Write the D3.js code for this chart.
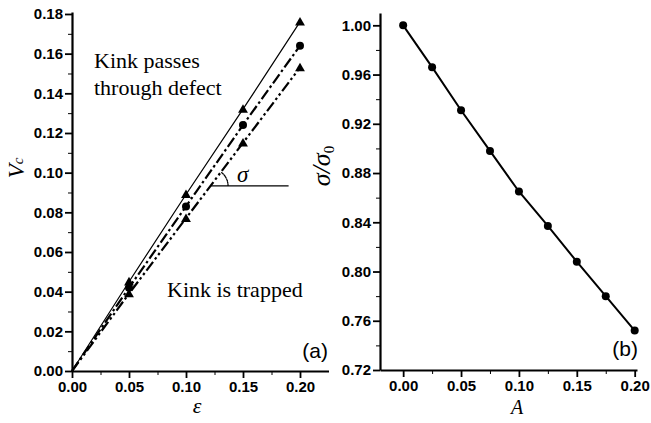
<!DOCTYPE html>
<html>
<head>
<meta charset="utf-8">
<script src="https://cdn.jsdelivr.net/npm/d3@7"></script>
<style>
  body { margin: 0; background: #fff; }
  svg { display: block; }
  .tick text { font-family: Arial, "Liberation Sans", sans-serif; font-weight: bold; font-size: 15px; fill: #000; }
</style>
</head>
<body>
<div id="chart"></div>
<script>
// panel (a): critical velocity vs epsilon
const eps = [0, 0.05, 0.10, 0.15, 0.20];
const vcSolid = [0, 0.045, 0.089, 0.132, 0.176];
const vcDashDot = [0, 0.042, 0.083, 0.124, 0.164];
const vcDashDotDot = [0, 0.039, 0.077, 0.115, 0.153];
const epsTicks = [0, 0.05, 0.10, 0.15, 0.20];
const vcTicks = [0, 0.02, 0.04, 0.06, 0.08, 0.10, 0.12, 0.14, 0.16, 0.18];

// panel (b): sigma / sigma0 vs A
const amp = [0, 0.025, 0.05, 0.075, 0.10, 0.125, 0.15, 0.175, 0.20];
const sigmaRatio = [1.000, 0.966, 0.931, 0.898, 0.865, 0.837, 0.808, 0.780, 0.752];
const ampTicks = [0, 0.05, 0.10, 0.15, 0.20];
const ratioTicks = [0.72, 0.76, 0.80, 0.84, 0.88, 0.92, 0.96, 1.00];

const width = 651, height = 423;
const svg = d3.select("#chart").append("svg")
  .attr("width", width)
  .attr("height", height);

const serif = "'Liberation Serif', 'Times New Roman', serif";
const sans = "Arial, 'Liberation Sans', sans-serif";

function drawAxes(x, y, xTicks, yTicks, xMinor, yMinor) {
  const x0 = y.range()[0], y0 = x.range()[0];
  // minor ticks first
  svg.append("g").attr("transform", `translate(0,${x0})`)
    .call(d3.axisBottom(x).tickValues(xMinor).tickSize(4).tickFormat(""))
    .call(g => g.select(".domain").remove());
  svg.append("g").attr("transform", `translate(${y0},0)`)
    .call(d3.axisLeft(y).tickValues(yMinor).tickSize(4).tickFormat(""))
    .call(g => g.select(".domain").remove());
  const gx = svg.append("g").attr("transform", `translate(0,${x0})`)
    .call(d3.axisBottom(x).tickValues(xTicks).tickSize(7).tickSizeOuter(0).tickPadding(3).tickFormat(d3.format(".2f")));
  const gy = svg.append("g").attr("transform", `translate(${y0},0)`)
    .call(d3.axisLeft(y).tickValues(yTicks).tickSize(7).tickSizeOuter(0).tickPadding(2).tickFormat(d3.format(".2f")));
  [gx, gy].forEach(g => {
    g.select(".domain").attr("stroke-width", 2.2);
    g.selectAll(".tick line").attr("stroke-width", 1.8);
  });
  svg.selectAll(".tick line").attr("stroke", "#000");
}

// ---------- panel (a) ----------
const xa = d3.scaleLinear().domain([0, 0.225]).range([72, 328.5]);
const ya = d3.scaleLinear().domain([0, 0.181]).range([371, 12]);

drawAxes(xa, ya, epsTicks, vcTicks,
  d3.range(0.025, 0.225, 0.05),
  d3.range(0.01, 0.18, 0.02));

const lineA = d3.line().x(d => xa(d[0])).y(d => ya(d[1]));
const seriesA = [
  { vals: vcSolid, dash: null, w: 1.2, marker: "tri" },
  { vals: vcDashDot, dash: "11,3,2.5,3", w: 2.2, marker: "circ" },
  { vals: vcDashDotDot, dash: "11,3,2.5,3,2.5,3", w: 2.2, marker: "tri" }
];
const tri = d3.symbol().type(d3.symbolTriangle).size(42);
seriesA.forEach(s => {
  const pts = eps.map((e, i) => [e, s.vals[i]]);
  svg.append("path")
    .attr("d", lineA(pts))
    .attr("fill", "none")
    .attr("stroke", "#000")
    .attr("stroke-width", s.w)
    .attr("stroke-dasharray", s.dash);
  pts.slice(1).forEach(p => {
    if (s.marker === "tri") {
      svg.append("path").attr("d", tri)
        .attr("transform", `translate(${xa(p[0])},${ya(p[1]) + 0.8})`)
        .attr("fill", "#000");
    } else {
      svg.append("circle").attr("cx", xa(p[0])).attr("cy", ya(p[1]))
        .attr("r", 4).attr("fill", "#000");
    }
  });
});

// slope angle annotation on the lowest line
const angEps = 0.122;
const angV = angEps * vcDashDotDot[4] / eps[4];
const ax0 = xa(angEps), ay0 = ya(angV);
svg.append("line")
  .attr("x1", ax0).attr("y1", ay0)
  .attr("x2", xa(0.19)).attr("y2", ay0)
  .attr("stroke", "#000").attr("stroke-width", 1.3);
const slopeAng = Math.atan2(ya(0) - ya(vcDashDotDot[4]), xa(eps[4]) - xa(0));
svg.append("path")
  .attr("d", d3.arc().innerRadius(17).outerRadius(17).startAngle(Math.PI / 2 - slopeAng).endAngle(Math.PI / 2)())
  .attr("transform", `translate(${ax0},${ay0})`)
  .attr("fill", "none").attr("stroke", "#000").attr("stroke-width", 1.2)
  .attr("stroke-dasharray", "3,2");
svg.append("text")
  .attr("x", ax0 + 26).attr("y", ay0 - 4)
  .style("font-family", serif).style("font-style", "italic").style("font-size", "23px")
  .text("σ");

svg.append("text").attr("x", 94).attr("y", 68)
  .style("font-family", serif).style("font-size", "22px").text("Kink passes");
svg.append("text").attr("x", 94).attr("y", 95)
  .style("font-family", serif).style("font-size", "22px").text("through defect");
svg.append("text").attr("x", 167).attr("y", 297)
  .style("font-family", serif).style("font-size", "22px").text("Kink is trapped");
svg.append("text").attr("x", 328).attr("y", 358).attr("text-anchor", "end")
  .style("font-family", sans).style("font-size", "21px").text("(a)");

svg.append("text").attr("x", 197).attr("y", 413).attr("text-anchor", "middle")
  .style("font-family", serif).style("font-style", "italic").style("font-size", "22px")
  .text("ε");
const vLab = svg.append("text")
  .attr("transform", "translate(24,168) rotate(-90)")
  .attr("text-anchor", "middle")
  .style("font-family", serif).style("font-style", "italic").style("font-size", "23px");
vLab.append("tspan").text("V");
vLab.append("tspan").attr("dy", -1).style("font-size", "15px").text("c");

// ---------- panel (b) ----------
const xb = d3.scaleLinear().domain([-0.02, 0.202]).range([380, 637]);
const yb = d3.scaleLinear().domain([0.72, 1.01]).range([370, 13]);

drawAxes(xb, yb, ampTicks, ratioTicks,
  d3.range(0.025, 0.2, 0.05),
  d3.range(0.74, 1.0, 0.04));

const pairs = amp.map((a, i) => [a, sigmaRatio[i]]);
svg.append("path")
  .attr("d", d3.line().x(d => xb(d[0])).y(d => yb(d[1]))(pairs))
  .attr("fill", "none").attr("stroke", "#000").attr("stroke-width", 2);
svg.selectAll("circle.b").data(pairs).enter().append("circle")
  .attr("class", "b")
  .attr("cx", d => xb(d[0])).attr("cy", d => yb(d[1]))
  .attr("r", 4).attr("fill", "#000");

svg.append("text").attr("x", 638).attr("y", 356).attr("text-anchor", "end")
  .style("font-family", sans).style("font-size", "21px").text("(b)");
svg.append("text").attr("x", 517).attr("y", 414).attr("text-anchor", "middle")
  .style("font-family", serif).style("font-style", "italic").style("font-size", "20px")
  .text("A");
const sLab = svg.append("text")
  .attr("transform", "translate(330,166) rotate(-90)")
  .attr("text-anchor", "middle")
  .style("font-family", serif).style("font-style", "italic").style("font-size", "26px");
sLab.append("tspan").text("σ/σ");
sLab.append("tspan").attr("dy", 4).style("font-style", "normal").style("font-size", "15px").text("0");
</script>
</body>
</html>
